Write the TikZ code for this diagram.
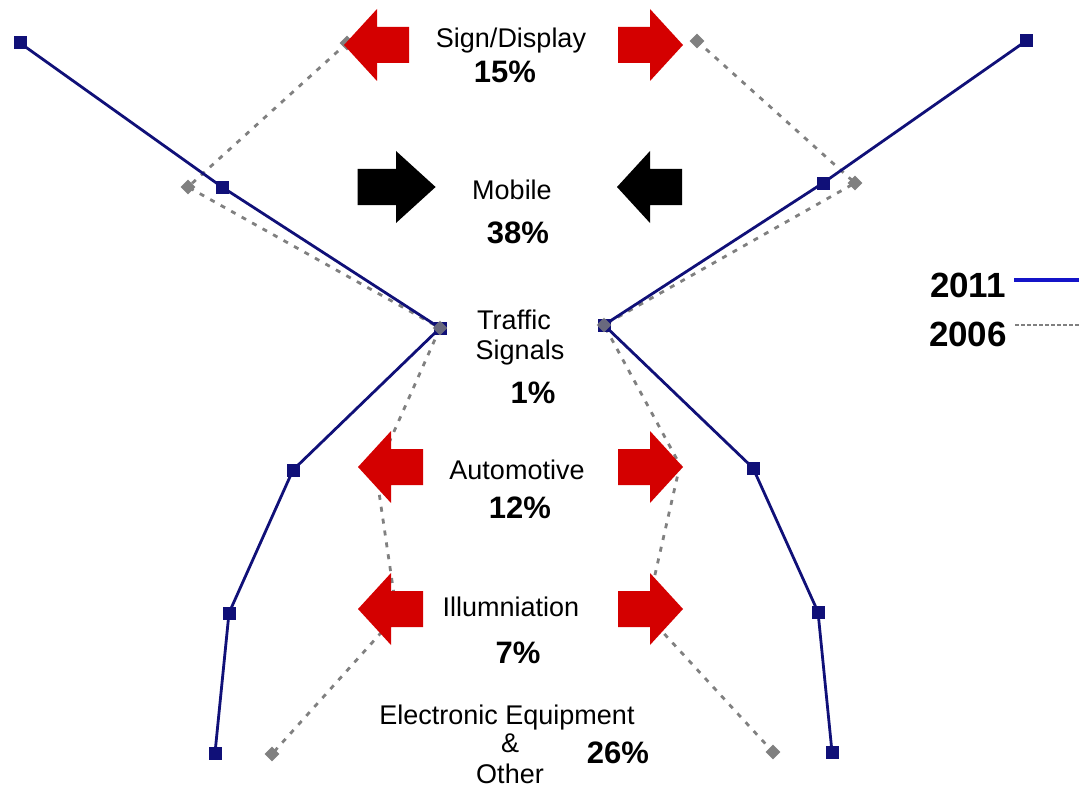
\documentclass[tikz,border=0pt]{standalone}
\usepackage{fontspec}
\setmainfont{Liberation Sans}
\usetikzlibrary{shapes.geometric}
\definecolor{LineNavy}{RGB}{16,16,120}
\definecolor{OldGray}{RGB}{128,128,128}
\definecolor{ArrowRed}{RGB}{212,0,0}
\definecolor{KeyBlue}{RGB}{20,20,200}
\tikzset{
  sq/.style={rectangle,fill=LineNavy,minimum size=13pt,inner sep=0pt},
  dm/.style={diamond,fill=OldGray,minimum size=15pt,inner sep=0pt},
  now/.style={draw=LineNavy,line width=2.8pt},
  old/.style={draw=OldGray,line width=2.8pt,dash pattern=on 5pt off 7pt},
  lbl/.style={font=\fontsize{27}{30}\selectfont,inner sep=0pt,anchor=base},
  pct/.style={font=\fontsize{31}{34}\selectfont\bfseries,inner sep=0pt,anchor=base},
  key/.style={font=\fontsize{35}{38}\selectfont\bfseries,inner sep=0pt,anchor=base},
  redarrow/.style={color=ArrowRed},
  blackarrow/.style={color=black},
  blockarrow/.pic={\fill (-32,-18) -- (0,-18) -- (0,-36) -- (33,0) -- (0,36) -- (0,18) -- (-32,18) -- cycle;},
}

\begin{document}
\begin{tikzpicture}[x=1pt,y=-1pt]
\useasboundingbox (0,0) rectangle (1079,789);
% 2011 curve
\coordinate (n1) at (20,43);
\coordinate (n2) at (222,187);
\coordinate (n3) at (440,328);
\coordinate (n4) at (293,470);
\coordinate (n5) at (229,613);
\coordinate (n6) at (215,753);
\coordinate (m1) at (1026,41);
\coordinate (m2) at (823,183);
\coordinate (m3) at (604,325);
\coordinate (m4) at (753,468);
\coordinate (m5) at (818,612);
\coordinate (m6) at (832,752);
% 2006 curve
\coordinate (o1) at (347,43);
\coordinate (o2) at (188,187);
\coordinate (o4) at (376,472);
\coordinate (o5) at (397,615);
\coordinate (o6) at (272,754);
\coordinate (q1) at (697,41);
\coordinate (q2) at (855,183);
\coordinate (q4) at (680,465);
\coordinate (q5) at (646,614);
\coordinate (q6) at (773,752);
\draw[old] (o1) -- (o2) -- (n3) -- (o4) -- (o5) -- (o6);
\draw[old] (q1) -- (q2) -- (m3) -- (q4) -- (q5) -- (q6);
\draw[now] (n1) -- (n2) -- (n3) -- (n4) -- (n5) -- (n6);
\draw[now] (m1) -- (m2) -- (m3) -- (m4) -- (m5) -- (m6);
\node[sq] (sn1) at (n1) {};
\node[sq] (sn2) at (n2) {};
\node[sq] (sn3) at (n3) {};
\node[sq] (sn4) at (n4) {};
\node[sq] (sn5) at (n5) {};
\node[sq] (sn6) at (n6) {};
\node[sq] (sm1) at (m1) {};
\node[sq] (sm2) at (m2) {};
\node[sq] (sm3) at (m3) {};
\node[sq] (sm4) at (m4) {};
\node[sq] (sm5) at (m5) {};
\node[sq] (sm6) at (m6) {};
\node[dm] (do1) at (o1) {};
\node[dm] (do2) at (o2) {};
\node[dm,opacity=.8] (do3) at (n3) {};
\node[dm] (do6) at (o6) {};
\node[dm] (dq1) at (q1) {};
\node[dm] (dq2) at (q2) {};
\node[dm,opacity=.8] (dq3) at (m3) {};
\node[dm] (dq6) at (q6) {};
% shift arrows
\pic[redarrow,xscale=-1] at (377,45) {blockarrow};
\pic[redarrow] at (650,45) {blockarrow};
\pic[blackarrow,xscale=1.2] at (396,187) {blockarrow};
\pic[blackarrow,xscale=-1] at (650,187) {blockarrow};
\pic[redarrow,xscale=-1] at (391,467) {blockarrow};
\pic[redarrow] at (650,467) {blockarrow};
\pic[redarrow,xscale=-1] at (391,609) {blockarrow};
\pic[redarrow] at (650,609) {blockarrow};
% segment labels
\node[lbl] (sign) at (511,48) {Sign/Display};
\node[pct] (signp) at (505,83) {15\%};
\node[lbl] (mob) at (512,199) {Mobile};
\node[pct] (mobp) at (518,243) {38\%};
\node[lbl] (traf) at (514,329) {Traffic};
\node[lbl] (trafb) at (520,359) {Signals};
\node[pct] (trafp) at (533,403) {1\%};
\node[lbl] (auto) at (517,479) {Automotive};
\node[pct] (autop) at (520,518) {12\%};
\node[lbl] (illu) at (511,616) {Illumniation};
\node[pct] (illup) at (518,663) {7\%};
\node[lbl] (elec) at (507,724) {Electronic Equipment};
\node[lbl] (amp) at (510,752) {\&};
\node[lbl] (oth) at (510,783) {Other};
\node[pct] (elecp) at (618,763) {26\%};
% legend
\node[key] (k1) at (968,297) {2011};
\node[key] (k2) at (968,346) {2006};
\coordinate (k1e) at (1079,280);
\coordinate (k2e) at (1079,325);
\draw[KeyBlue,line width=4pt] ([xshift=8pt]k1.east |- k1e) -- (k1e);
\draw[OldGray,line width=2.5pt,dash pattern=on 4pt off 2pt] ([xshift=8pt]k2.east |- k2e) -- (k2e);
\end{tikzpicture}
\end{document}
